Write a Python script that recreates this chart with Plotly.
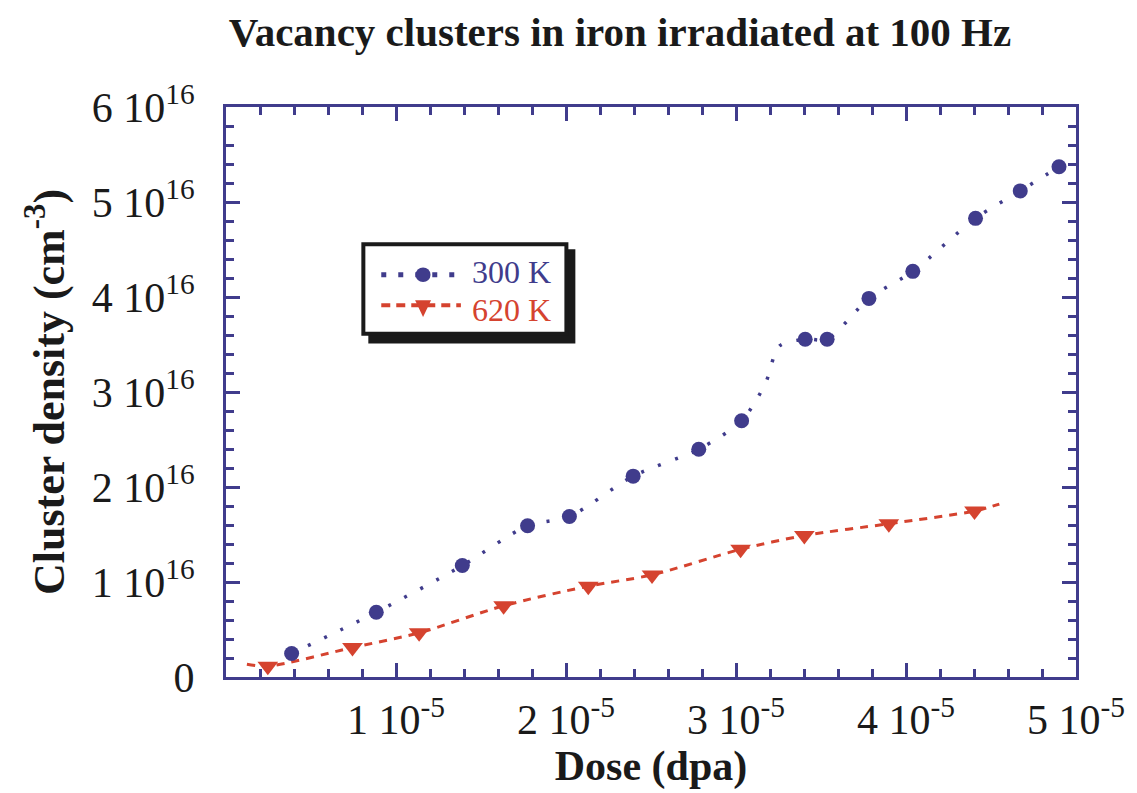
import plotly.graph_objects as go

# ---------------- data ----------------
# 300 K series: dose (dpa) and cluster density (cm^-3)
dose_300K = [0.386e-5, 0.884e-5, 1.390e-5, 1.774e-5, 2.020e-5, 2.395e-5, 2.781e-5, 3.033e-5,
             3.407e-5, 3.536e-5, 3.782e-5, 4.040e-5, 4.409e-5, 4.672e-5, 4.900e-5]
density_300K = [0.248e16, 0.682e16, 1.173e16, 1.592e16, 1.690e16, 2.114e16, 2.398e16, 2.698e16,
                3.556e16, 3.556e16, 3.985e16, 4.270e16, 4.828e16, 5.117e16, 5.371e16]

# 620 K series
dose_620K = [0.246e-5, 0.744e-5, 1.136e-5, 1.633e-5, 2.131e-5, 2.506e-5, 3.027e-5, 3.402e-5,
             3.899e-5, 4.403e-5]
density_620K = [0.114e16, 0.310e16, 0.465e16, 0.750e16, 0.956e16, 1.075e16, 1.344e16, 1.489e16,
                1.613e16, 1.747e16]

# guide curves drawn through the data
curve_300K_x = [0.386e-5, 0.884e-5, 1.390e-5, 1.774e-5, 2.020e-5, 2.395e-5, 2.781e-5, 3.033e-5,
                3.173e-5, 3.255e-5, 3.407e-5, 3.536e-5, 3.782e-5, 4.040e-5, 4.409e-5, 4.672e-5, 4.900e-5]
curve_300K_y = [0.248e16, 0.682e16, 1.173e16, 1.592e16, 1.690e16, 2.114e16, 2.398e16, 2.698e16,
                3.091e16, 3.484e16, 3.556e16, 3.556e16, 3.985e16, 4.270e16, 4.828e16, 5.117e16, 5.371e16]
curve_620K_x = [0.123e-5, 0.246e-5, 0.744e-5, 1.136e-5, 1.633e-5, 2.131e-5, 2.506e-5, 3.027e-5,
                3.402e-5, 3.899e-5, 4.403e-5, 4.549e-5]
curve_620K_y = [0.134e16, 0.114e16, 0.310e16, 0.465e16, 0.750e16, 0.956e16, 1.075e16, 1.344e16,
                1.489e16, 1.613e16, 1.747e16, 1.820e16]

# tick labels
x_tickvals = [1e-5, 2e-5, 3e-5, 4e-5, 5e-5]
x_ticktext = ["1 10<sup>-5</sup>", "2 10<sup>-5</sup>", "3 10<sup>-5</sup>", "4 10<sup>-5</sup>", "5 10<sup>-5</sup>"]
y_tickvals = [0, 1e16, 2e16, 3e16, 4e16, 5e16, 6e16]
y_ticktext = ["0", "1 10<sup>16</sup>", "2 10<sup>16</sup>", "3 10<sup>16</sup>",
              "4 10<sup>16</sup>", "5 10<sup>16</sup>", "6 10<sup>16</sup>"]
series_names = ["300 K", "620 K"]

# ---------------- styling ----------------
W, H = 1137, 793
L, R, T, B = 226, 1080, 107, 688
AX = "#403c8c"
BLUE = "#403c8c"
RED = "#d5432f"
SERIF = "Liberation Serif, Times New Roman, serif"
TXT = "#1a1a1a"


def px_x(p):
    return (p - L) / (R - L)


def px_y(p):
    return (B - p) / (B - T)


fig = go.Figure()

fig.add_trace(go.Scatter(x=curve_300K_x, y=curve_300K_y, mode="lines",
                         line=dict(color=BLUE, width=3.5, dash="3px,15px", shape="spline", smoothing=0.8),
                         showlegend=False, hoverinfo="skip"))
fig.add_trace(go.Scatter(x=curve_620K_x, y=curve_620K_y, mode="lines",
                         line=dict(color=RED, width=3, dash="8px,7px", shape="spline", smoothing=0.8),
                         showlegend=False, hoverinfo="skip"))
fig.add_trace(go.Scatter(x=dose_300K, y=density_300K, mode="markers", name=series_names[0],
                         marker=dict(symbol="circle", size=15, color=BLUE, line=dict(width=0)),
                         showlegend=False))
fig.add_trace(go.Scatter(x=dose_620K, y=density_620K, mode="markers", name=series_names[1],
                         marker=dict(symbol="triangle-down", size=18, color=RED, line=dict(width=0)),
                         showlegend=False))

axis_common = dict(
    showline=True, linewidth=3, linecolor=AX, mirror="ticks",
    ticks="inside", ticklen=14, tickwidth=3, tickcolor=AX,
    showgrid=False, zeroline=False,
    tickfont=dict(family=SERIF, size=42, color=TXT),
)

fig.update_xaxes(
    range=[0, 5e-5], tickmode="array", tickvals=x_tickvals, ticktext=x_ticktext,
    minor=dict(ticks="inside", ticklen=8, tickwidth=3, tickcolor=AX,
               tickvals=[i * 0.2e-5 for i in range(1, 25) if i % 5]),
    ticklabelstandoff=4,
    title=dict(text="Dose (dpa)", font=dict(family=SERIF, size=42, color=TXT, weight="bold"), standoff=8),
    **axis_common,
)
fig.update_yaxes(
    range=[0, 6e16], tickmode="array", tickvals=y_tickvals, ticktext=y_ticktext,
    minor=dict(ticks="inside", ticklen=8, tickwidth=3, tickcolor=AX,
               tickvals=[i * 0.2e16 for i in range(1, 30) if i % 5]),
    ticklabelstandoff=20,
    title=dict(text="Cluster density (cm<sup>-3</sup>)", font=dict(family=SERIF, size=44, color=TXT, weight="bold"),
               standoff=14),
    **axis_common,
)

# ---------------- hand-drawn legend box ----------------
shapes = [
    dict(type="rect", xref="paper", yref="paper", x0=px_x(369), x1=px_x(577), y0=px_y(348), y1=px_y(252),
         fillcolor="#1a1a1a", line=dict(width=0), layer="above"),
    dict(type="rect", xref="paper", yref="paper", x0=px_x(364), x1=px_x(568), y0=px_y(338), y1=px_y(247),
         fillcolor="white", line=dict(color="#1a1a1a", width=4), layer="above"),
    dict(type="line", xref="paper", yref="paper", x0=px_x(382), x1=px_x(462), y0=px_y(278), y1=px_y(278),
         line=dict(color=BLUE, width=5, dash="5px,12px"), layer="above"),
    dict(type="line", xref="paper", yref="paper", x0=px_x(382), x1=px_x(462), y0=px_y(309), y1=px_y(309),
         line=dict(color=RED, width=4, dash="9px,6px"), layer="above"),
    dict(type="circle", xref="paper", yref="paper", x0=px_x(416.5), x1=px_x(431.5), y0=px_y(285.5),
         y1=px_y(270.5), fillcolor=BLUE, line=dict(width=0), layer="above"),
    dict(type="path", xref="paper", yref="paper",
         path="M {:.5f},{:.5f} L {:.5f},{:.5f} L {:.5f},{:.5f} Z".format(
             px_x(416), px_y(304), px_x(432), px_y(304), px_x(424), px_y(321)),
         fillcolor=RED, line=dict(width=0), layer="above"),
]

# legend labels: top one sits on the divider line, bottom one hangs from it (no overlap)
annotations = [
    dict(text=series_names[0], xref="paper", yref="paper", x=px_x(472), y=px_y(295), xanchor="left",
         yanchor="bottom", showarrow=False, borderpad=0, font=dict(family=SERIF, size=32, color=BLUE)),
    dict(text=series_names[1], xref="paper", yref="paper", x=px_x(472), y=px_y(295), xanchor="left",
         yanchor="top", showarrow=False, borderpad=0, font=dict(family=SERIF, size=32, color=RED)),
]

fig.update_layout(
    width=W, height=H,
    margin=dict(l=L, r=W - R, t=T, b=H - B),
    paper_bgcolor="white", plot_bgcolor="white",
    title=dict(text="Vacancy clusters in iron irradiated at 100 Hz", x=620 / W, xref="container",
               xanchor="center", y=1 - 32 / H, yref="container", yanchor="middle",
               font=dict(family=SERIF, size=41, color=TXT, weight="bold")),
    shapes=shapes, annotations=annotations,
    showlegend=False,
)

fig.write_html("out.html")
